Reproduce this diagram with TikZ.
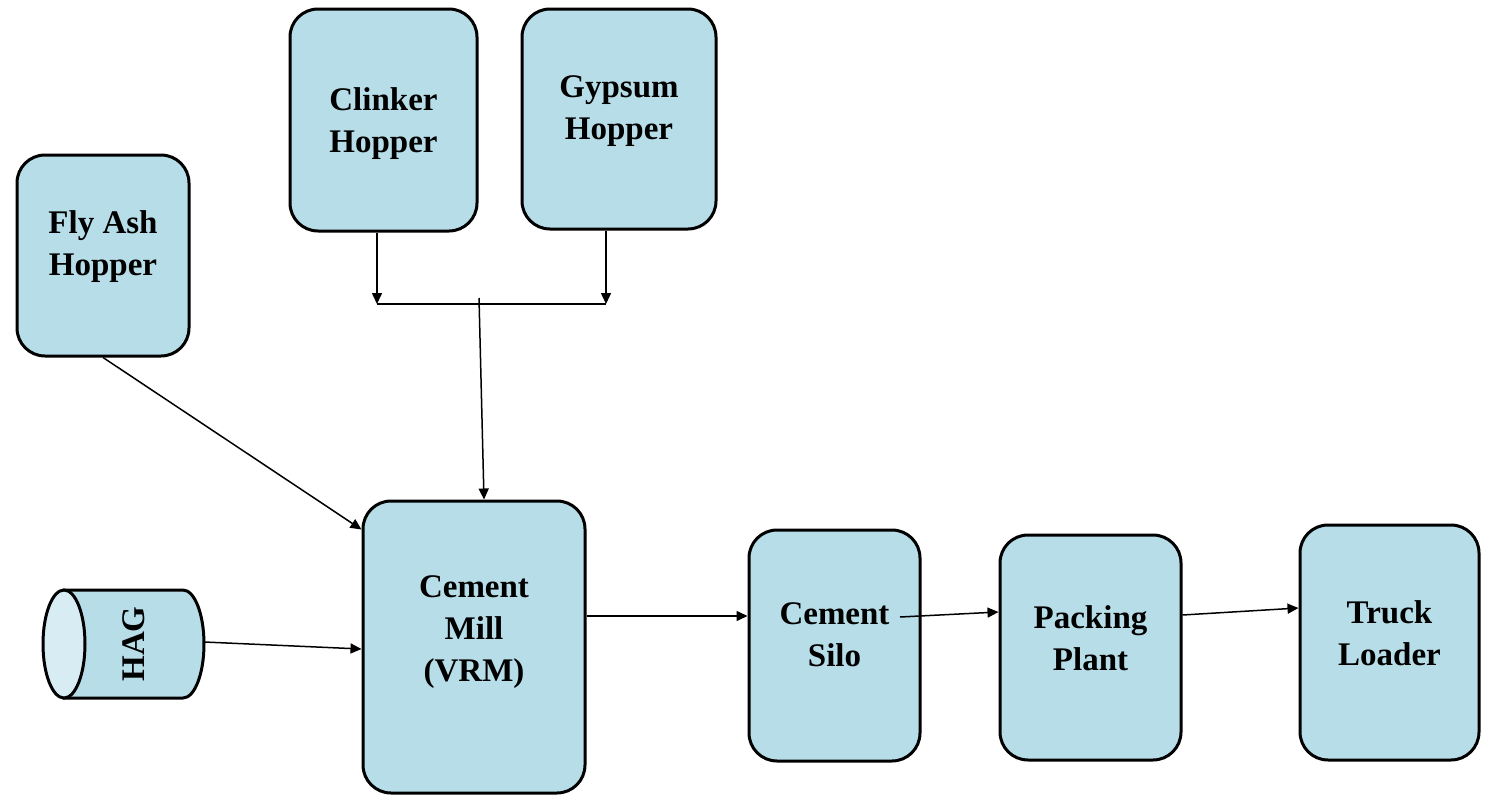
\documentclass[tikz,border=0pt]{standalone}
\usepackage{fontspec}
\setmainfont{Liberation Serif}
\usetikzlibrary{arrows.meta}
\definecolor{boxblue}{RGB}{183,222,232}
\definecolor{faceblue}{RGB}{216,237,243}
\begin{document}
\begin{tikzpicture}[x=1pt,y=-1pt,
  box/.style={draw=black, line width=3pt, fill=boxblue, rounded corners=28pt, rectangle, inner sep=0pt},
  lbl/.style={font=\fontsize{33}{42}\selectfont\bfseries, align=center, inner sep=0pt},
  arr/.style={line width=1.5pt, -{Triangle[length=11pt,width=10pt]}},
  plain/.style={line width=1.5pt}]
\useasboundingbox (0,0) rectangle (1491,795);
% boxes
\node[box, minimum width=172pt, minimum height=201pt] (fly) at (103,255.5) {};
\node[box, minimum width=187pt, minimum height=222pt] (clinker) at (383.5,120) {};
\node[box, minimum width=194pt, minimum height=220pt] (gypsum) at (619,119) {};
\node[box, minimum width=222pt, minimum height=292pt] (mill) at (474,647) {};
\node[box, minimum width=171pt, minimum height=231pt] (silo) at (834.5,645.5) {};
\node[box, minimum width=181pt, minimum height=225pt] (packing) at (1090.5,647.5) {};
\node[box, minimum width=179pt, minimum height=235pt] (truck) at (1389.5,642.5) {};
% labels
\node[lbl] at (103,247) {Fly Ash\\Hopper};
\node[lbl] at (383.5,124) {Clinker\\Hopper};
\node[lbl] at (619,111) {Gypsum\\Hopper};
\node[lbl] at (474,632) {Cement\\Mill\\(VRM)};
\node[lbl] at (834.5,635) {Cement\\Silo};
\node[lbl] at (1090.5,638) {Packing\\Plant};
\node[lbl] at (1389.5,633) {Truck\\Loader};
% HAG cylinder
\node[inner sep=0pt, minimum width=162pt, minimum height=108pt] (hag) at (123,644) {};
\filldraw[line width=3pt, fill=boxblue]
  (64,590) -- (183,590)
  .. controls (194.6,590) and (204,614.2) .. (204,644)
  .. controls (204,673.8) and (194.6,698) .. (183,698)
  -- (64,698) -- cycle;
\filldraw[line width=3pt, fill=faceblue] (64,644) ellipse [x radius=21, y radius=54];
\node[lbl, rotate=90] (hagtext) at (134,644) {HAG};
% junction
\coordinate (jl) at (377,304);
\coordinate (jr) at (606,304);
\coordinate (jm) at (479,298);
\draw[arr] (clinker.south -| jl) -- (jl);
\draw[arr] (gypsum.south -| jr) -- (jr);
\draw[plain] (jl) -- (jr);
\draw[arr] (jm) -- ([xshift=10pt]mill.north);
% other connectors
\draw[arr] (fly.south) -- ([yshift=-30pt]mill.north west);
\draw[arr] ([yshift=2pt]hag.east) -- ([yshift=-2pt]mill.west);
\draw[arr] ([yshift=31pt]mill.east) -- ([yshift=31pt]mill.east -| silo.west);
\draw[arr] ([xshift=65.5pt,yshift=28.5pt]silo.center) -- ([yshift=35.5pt]packing.west);
\draw[arr] ([yshift=32.5pt]packing.east) -- ([yshift=34.5pt]truck.west);
\end{tikzpicture}
\end{document}
